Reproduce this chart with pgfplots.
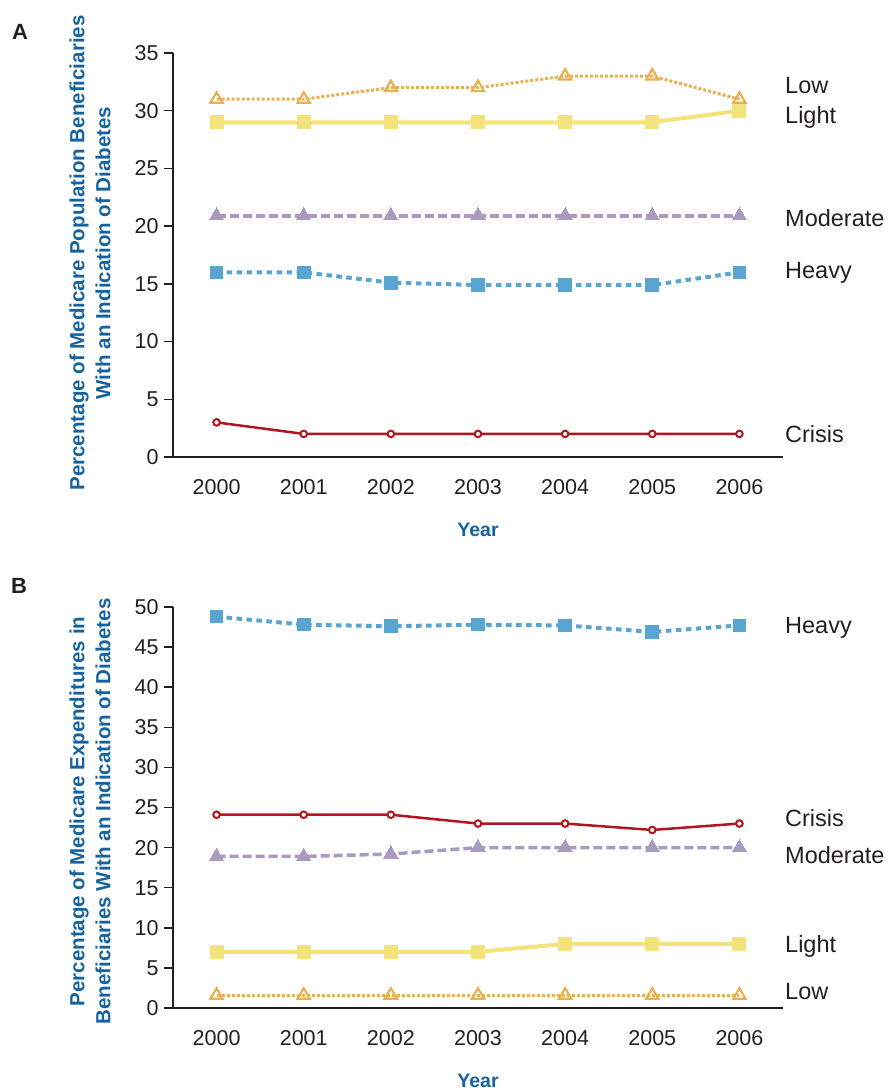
\documentclass[border=0pt]{standalone}
\usepackage{pgfplots}
\pgfplotsset{compat=1.18}
\usepackage{fontspec}
\setmainfont{Liberation Sans}
\definecolor{cLow}{HTML}{EBB04F}
\definecolor{cLight}{HTML}{F4E27A}
\definecolor{cMod}{HTML}{A99AC0}
\definecolor{cHeavy}{HTML}{58A5D2}
\definecolor{cCrisis}{HTML}{B3151F}
\definecolor{cLab}{HTML}{14629F}
\definecolor{cAx}{HTML}{231F20}
\tikzset{catlab/.style={anchor=base west, inner sep=0pt, xshift=2pt, font=\fontsize{23.5}{26}\selectfont, text=cAx}}
\pgfplotsset{
  myaxis/.style={
    scale only axis, width=610pt,
    axis lines*=left,
    axis line style={cAx, line width=1.8pt},
    xmin=-0.5, xmax=6.5, ymin=0,
    xtick={0,...,6},
    xticklabels={2000,2001,2002,2003,2004,2005,2006},
    major x tick style={draw=none},
    extra x ticks={-0.5,0.5,...,6.5},
    extra x tick labels={},
    extra x tick style={major tick length=10pt, tick style={cAx, line width=1.5pt}},
    tick align=outside,
    major tick length=9pt,
    ytick style={cAx, line width=1.5pt},
    /pgf/number format/assume math mode=true,
    ticklabel style={font=\fontsize{21.5}{24}\selectfont, text=cAx},
    yticklabel style={xshift=-2pt},
    xticklabel style={yshift=-10pt},
    clip=false,
    xlabel={Year},
    xlabel style={at={(axis description cs:0.5,0)}, anchor=base, yshift=-79pt,
      font=\bfseries\fontsize{19.5}{22}\selectfont, text=cLab},
    ylabel style={rotate=0, anchor=center, align=center,
      font=\bfseries\fontsize{20.5}{26}\selectfont, text=cLab},
  },
  sLow/.style={cLow, line width=3pt, dash pattern=on 3pt off 2pt, mark=triangle, mark size=7pt, mark options={solid, line width=2.2pt, fill=white}},
  sLight/.style={cLight, line width=4pt, mark=square*, mark size=6.5pt, mark options={solid, line width=0pt}},
  sMod/.style={cMod, line width=3.5pt, dash pattern=on 9pt off 4pt, mark=triangle*, mark size=8.3pt, mark options={solid, line width=0pt}},
  sHeavy/.style={cHeavy, line width=4pt, dash pattern=on 5.5pt off 4.5pt, mark=square*, mark size=6.3pt, mark options={solid, line width=0pt}},
  sCrisis/.style={cCrisis, line width=2.5pt, mark=*, mark size=3.3pt, mark options={solid, fill=white, line width=2pt}},
}
\begin{document}
\begin{tikzpicture}
\useasboundingbox (0,0) rectangle (888pt,-1090pt);
\node[font=\bfseries\fontsize{22}{24}\selectfont, text=cAx] at (20pt,-32pt) {A};
\node[font=\bfseries\fontsize{22}{24}\selectfont, text=cAx] at (19pt,-586pt) {B};
% Panel A
\begin{axis}[myaxis, at={(173pt,-457pt)}, anchor=south west, height=404pt,
  ymax=35, ytick={0,5,...,35},
  ylabel={Percentage of Medicare Population Beneficiaries\\With an Indication of Diabetes},
  ylabel style={at={(axis description cs:-0.136,0.505)}, rotate=0}]
\addplot[sLow] coordinates {(0,31) (1,31) (2,32) (3,32) (4,33) (5,33) (6,31)};
\addplot[sLight] coordinates {(0,29) (1,29) (2,29) (3,29) (4,29) (5,29) (6,30)};
\addplot[sMod] coordinates {(0,20.9) (1,20.9) (2,20.9) (3,20.9) (4,20.9) (5,20.9) (6,20.9)};
\addplot[sHeavy] coordinates {(0,16) (1,16) (2,15.1) (3,14.9) (4,14.9) (5,14.9) (6,16)};
\addplot[sCrisis] coordinates {(0,3) (1,2) (2,2) (3,2) (4,2) (5,2) (6,2)};
\node[catlab] at (axis cs:6.5,31.46) {Low};
\node[catlab] at (axis cs:6.5,28.9) {Light};
\node[catlab] at (axis cs:6.5,19.96) {Moderate};
\node[catlab] at (axis cs:6.5,15.49) {Heavy};
\node[catlab] at (axis cs:6.5,1.27) {Crisis};
\end{axis}
% Panel B
\begin{axis}[myaxis, at={(173pt,-1008pt)}, anchor=south west, height=401pt,
  ymax=50, ytick={0,5,...,50},
  ylabel={Percentage of Medicare Expenditures in\\Beneficiaries With an Indication of Diabetes},
  ylabel style={at={(axis description cs:-0.136,0.49)}}]
\addplot[sLow] coordinates {(0,1.6) (1,1.6) (2,1.6) (3,1.6) (4,1.6) (5,1.6) (6,1.6)};
\addplot[sLight] coordinates {(0,7) (1,7) (2,7) (3,7) (4,8) (5,8) (6,8)};
\addplot[sMod] coordinates {(0,18.9) (1,18.9) (2,19.2) (3,20) (4,20) (5,20) (6,20)};
\addplot[sHeavy] coordinates {(0,48.8) (1,47.8) (2,47.6) (3,47.8) (4,47.7) (5,46.9) (6,47.7)};
\addplot[sCrisis] coordinates {(0,24.1) (1,24.1) (2,24.1) (3,23.0) (4,23.0) (5,22.2) (6,23.0)};
\node[catlab] at (axis cs:6.5,46.7) {Heavy};
\node[catlab] at (axis cs:6.5,22.6) {Crisis};
\node[catlab] at (axis cs:6.5,18.0) {Moderate};
\node[catlab] at (axis cs:6.5,6.93) {Light};
\node[catlab] at (axis cs:6.5,1.12) {Low};
\end{axis}
\end{tikzpicture}
\end{document}
